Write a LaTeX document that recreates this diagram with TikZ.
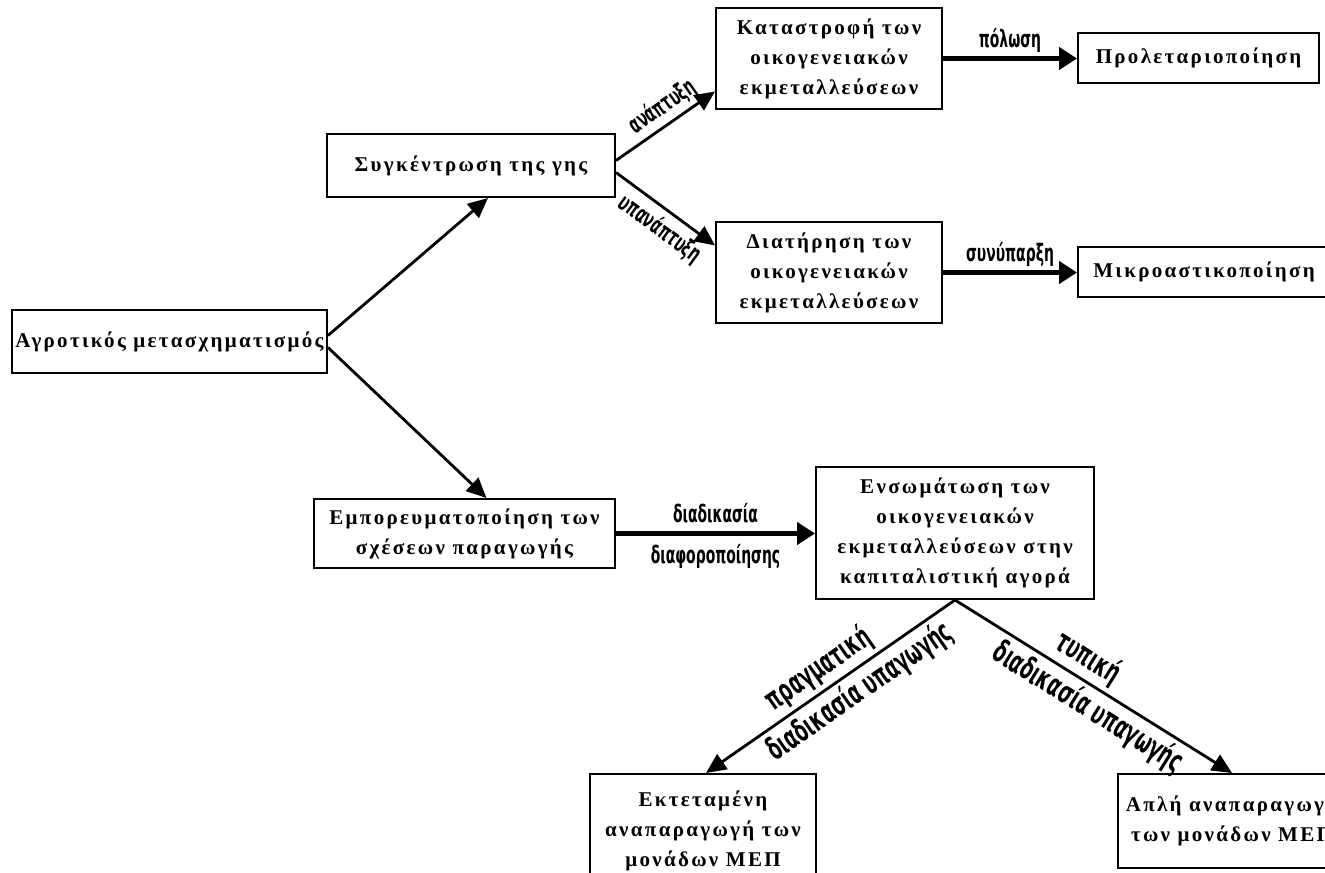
\documentclass[tikz,border=0pt]{standalone}
\usepackage{fontspec}
\setmainfont{Liberation Serif}
\newfontfamily\boxfont[LetterSpace=11]{Liberation Serif}
\newfontfamily\lblfont[FakeStretch=0.58]{DejaVu Sans}
\usetikzlibrary{arrows.meta,calc,positioning}
\tikzset{
	x=0.5pt,y=-0.5pt,
	-{Triangle[length=10pt,width=9pt]},auto,
	box/.style ={rectangle, draw, line width=1pt, inner sep=0pt, align=center, font=\boxfont\fontsize{10.5}{15}\selectfont\bfseries},
	arr/.style = {line width=1.4pt},
	fat/.style = {line width=2.5pt,-{Triangle[length=9pt,width=11pt]}},
	el/.style = {inner sep=2pt, font=\lblfont\fontsize{12}{14}\selectfont\bfseries},
	bel/.style = {inner sep=2pt, sloped, font=\lblfont\fontsize{15.5}{17}\selectfont\bfseries}
}
\begin{document}
\begin{tikzpicture}
	\useasboundingbox (0,0) rectangle (1325,872);
	\node[box,minimum width=157.5pt,minimum height=31.5pt] (1) at (169.5,341.5) {Αγροτικός μετασχηματισμός};
	\node[box,minimum width=144pt,minimum height=31.5pt] (2) at (471,165.5) {Συγκέντρωση της γης};
	\node[box,minimum width=113pt,minimum height=50.5pt] (3) at (829,58.5) {Καταστροφή των\\οικογενειακών\\εκμεταλλεύσεων};
	\node[box,minimum width=120.5pt,minimum height=25pt] (4) at (1198.5,58) {Προλεταριοποίηση};
	\node[box,minimum width=113pt,minimum height=50.5pt] (5) at (829,272.5) {Διατήρηση των\\οικογενειακών\\εκμεταλλεύσεων};
	\node[box,minimum width=126pt,minimum height=25pt] (6) at (1204,272) {Μικροαστικοποίηση};
	\node[box,minimum width=150.5pt,minimum height=34.5pt] (7) at (464.5,533.5) {Εμπορευματοποίηση των\\σχέσεων παραγωγής};
	\node[box,minimum width=139pt,minimum height=66pt] (8) at (955,533) {Ενσωμάτωση των\\οικογενειακών\\εκμεταλλεύσεων στην\\καπιταλιστική αγορά};
	\node[box,minimum width=113pt,minimum height=57pt] (9) at (703,831) {Εκτεταμένη\\αναπαραγωγή των\\μονάδων ΜΕΠ};
	\node[box,minimum width=114pt,minimum height=47pt] (10) at (1232,821) {Απλή αναπαραγωγή\\των μονάδων ΜΕΠ};
	
	\path[arr] ($(1.east)+(0,-6)$) edge ($(2.south)+(17,0)$);
	\path[arr] ($(1.east)+(0,6)$) edge ($(7.north)+(22,0)$);
	\path[arr] ($(2.east)+(0,-5)$) edge node[el,sloped,above,pos=.57] {ανάπτυξη} ($(3.west)+(0,33)$);
	\path[arr] ($(2.east)+(0,7)$) edge node[el,sloped,below,pos=.56,inner sep=3pt] {υπανάπτυξη} ($(5.west)+(0,-27)$);
	\path[fat] (3.east) edge node[el,above] {πόλωση} (3.east -| 4.west);
	\path[fat] (5.east) edge node[el,above] {συνύπαρξη} (5.east -| 6.west);
	\path[fat] (7.east) edge node[el,above,inner sep=4pt] {διαδικασία} node[el,below,inner sep=4pt] {διαφοροποίησης} (7.east -| 8.west);
	\path[arr] (8.south) edge node[bel,above,pos=.5] {πραγματική} node[bel,below,pos=.43] {διαδικασία υπαγωγής} ($(9.north)+(3,0)$);
	\path[arr] (8.south) edge node[bel,above,pos=.44] {τυπική} node[bel,below,pos=.52] {διαδικασία υπαγωγής} (10.north);
\end{tikzpicture}
\end{document}
